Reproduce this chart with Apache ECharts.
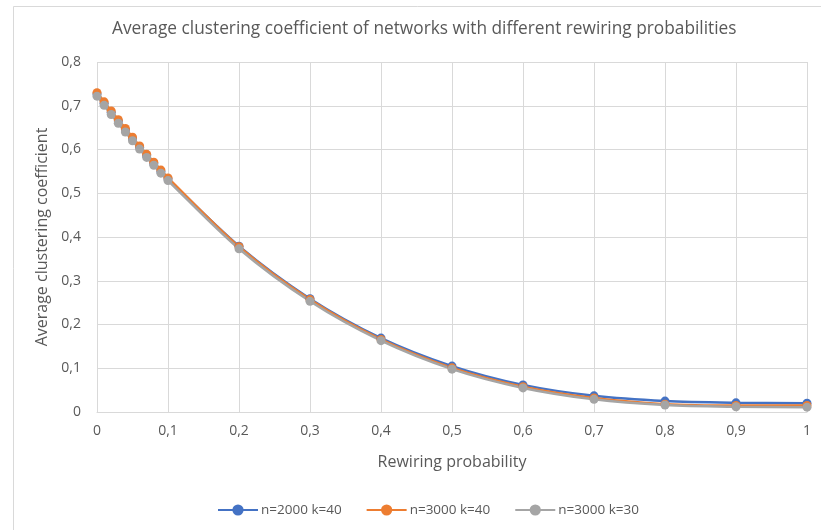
<!DOCTYPE html>
<html>
<head>
<meta charset="utf-8">
<script src="https://cdn.jsdelivr.net/npm/echarts@6/dist/echarts.min.js"></script>
<style>html,body{margin:0;padding:0;background:#fff;}#c{width:821px;height:530px;}</style>
</head>
<body>
<div id="c"></div>
<script>
const xValues = [0,0.01,0.02,0.03,0.04,0.05,0.06,0.07,0.08,0.09,0.1,0.2,0.3,0.4,0.5,0.6,0.7,0.8,0.9,1];
const seriesNames = ["n=2000 k=40","n=3000 k=40","n=3000 k=30"];
const blueValues = [0.727,0.706,0.685,0.665,0.645,0.625,0.605,0.586,0.568,0.550,0.533,0.379,0.259,0.169,0.105,0.062,0.037,0.025,0.021,0.020];
const orangeValues = [0.730,0.709,0.688,0.668,0.648,0.628,0.608,0.589,0.571,0.553,0.535,0.378,0.257,0.166,0.101,0.058,0.032,0.018,0.015,0.015];
const grayValues = [0.722,0.701,0.680,0.660,0.640,0.620,0.601,0.582,0.564,0.546,0.529,0.373,0.253,0.163,0.098,0.055,0.029,0.016,0.012,0.011];
const colors = ["#4472C4","#ED7D31","#A5A5A5"];
const title = "Average clustering coefficient of networks with different rewiring probabilities";
const xName = "Rewiring probability";
const yName = "Average clustering coefficient";

const fmt = v => String(Math.round(v*10)/10).replace('.', ',');
const font = "'Open Sans', 'Noto Sans', sans-serif";
const all = [blueValues, orangeValues, grayValues];
const chart = echarts.init(document.getElementById('c'), null, {renderer:'canvas'});
chart.setOption({
  backgroundColor:'#fff',
  animation:false,
  graphic:[
    {type:'rect', left:11, top:4, shape:{width:830, height:540}, style:{fill:'none', stroke:'#D9D9D9', lineWidth:1}},
    {type:'text', top:21, left:112, style:{text:title, fill:'#595959', font:"17.3px 'Open Sans', sans-serif"}}
  ],
  grid:{left:97, right:14, top:62, bottom:118},
  legend:{top:498, left:212, itemGap:24, itemWidth:40, itemHeight:14, textStyle:{fontFamily:font, fontSize:13.5, color:'#595959', padding:[0,0,0,-2]},
    data:seriesNames},
  xAxis:{type:'value', min:0, max:1, interval:0.1, name:xName, nameLocation:'middle', nameGap:42,
    nameTextStyle:{fontFamily:font, fontSize:16, color:'#595959'},
    axisLine:{show:true, lineStyle:{color:'#D9D9D9'}}, axisTick:{show:false},
    axisLabel:{formatter:fmt, fontFamily:font, fontSize:14, color:'#595959', margin:12},
    splitLine:{show:true, lineStyle:{color:'#D9D9D9'}}},
  yAxis:{type:'value', min:0, max:0.8, interval:0.1, name:yName, nameLocation:'middle', nameGap:43,
    nameTextStyle:{fontFamily:font, fontSize:16, color:'#595959'},
    axisLine:{show:false}, axisTick:{show:false},
    axisLabel:{formatter:fmt, fontFamily:font, fontSize:14, color:'#595959', margin:16},
    splitLine:{show:true, lineStyle:{color:'#D9D9D9'}}},
  series: seriesNames.map((n,i)=>({
    name:n, type:'line', smooth:0.3, symbol:'circle', symbolSize:9,
    lineStyle:{width:2.5, color:colors[i]}, itemStyle:{color:colors[i]},
    data:xValues.map((x,j)=>[x, all[i][j]])
  }))
});
</script>
</body>
</html>
